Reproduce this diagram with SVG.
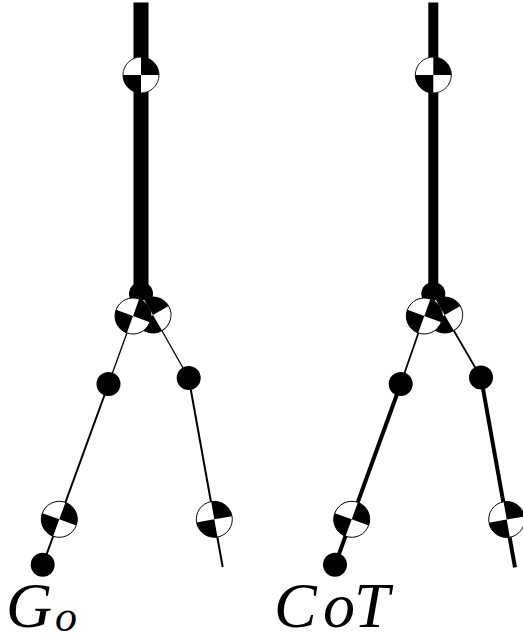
<svg xmlns="http://www.w3.org/2000/svg" width="523" height="641" viewBox="0 0 523 641">
<style>
.l{stroke:#000;fill:none}
.dot{fill:#000}
.t{font-family:"Liberation Serif","Times New Roman",serif;font-style:italic;fill:#000}
</style>
<defs>
<g id="cog">
<circle r="18" fill="#fff" stroke="#000" stroke-width="0.9"/>
<path d="M0 0V-18A18 18 0 0 1 18 0ZM0 0V18A18 18 0 0 1 -18 0Z" fill="#000"/>
</g>
</defs>
<rect width="523" height="641" fill="#fff"/>
<g id="connectors">
<path class="l" stroke-width="15" d="M141 2.500V294"/>
<path class="l" stroke-width="1.300" d="M133 316L108.500 384"/>
<path class="l" stroke-width="1.300" d="M153 315L188.700 378"/>
<path class="l" stroke-width="2" d="M108.500 384L42.700 565"/>
<path class="l" stroke-width="2" d="M188.700 378L222.700 567"/>
<path class="l" stroke-width="10" d="M433.300 2.500V294"/>
<path class="l" stroke-width="1.800" d="M424.300 316L400.700 384"/>
<path class="l" stroke-width="1.800" d="M444.700 315L481 377.500"/>
<path class="l" stroke-width="4" d="M400.700 384L335 565"/>
<path class="l" stroke-width="4" d="M481 377.500L515 567.300"/>
</g>
<g id="left-figure">
<g id="l-head"><use href="#cog" transform="translate(141 75)"/></g>
<g id="l-pelvis"><circle class="dot" cx="141" cy="294" r="12"/></g>
<g id="l-hip-r"><use href="#cog" transform="translate(153 315) rotate(-30)"/></g>
<g id="l-hip-l"><use href="#cog" transform="translate(133 316) rotate(20)"/></g>
<g id="l-knee-l"><circle class="dot" cx="108.500" cy="384" r="12"/></g>
<g id="l-knee-r"><circle class="dot" cx="188.700" cy="378" r="12"/></g>
<g id="l-shin-l"><use href="#cog" transform="translate(59.300 519.300) rotate(20)"/></g>
<g id="l-shin-r"><use href="#cog" transform="translate(214.300 519.300) rotate(-10)"/></g>
<g id="l-foot"><circle class="dot" cx="42.700" cy="564.700" r="12"/></g>
</g>
<g id="right-figure">
<g id="r-head"><use href="#cog" transform="translate(433.300 75)"/></g>
<g id="r-pelvis"><circle class="dot" cx="433.300" cy="294" r="12"/></g>
<g id="r-hip-r"><use href="#cog" transform="translate(444.700 315) rotate(-30)"/></g>
<g id="r-hip-l"><use href="#cog" transform="translate(424.300 316) rotate(20)"/></g>
<g id="r-knee-l"><circle class="dot" cx="400.700" cy="384" r="12"/></g>
<g id="r-knee-r"><circle class="dot" cx="481" cy="377.500" r="12"/></g>
<g id="r-shin-l"><use href="#cog" transform="translate(351.700 519.300) rotate(20)"/></g>
<g id="r-shin-r"><use href="#cog" transform="translate(506.700 519.500) rotate(-10)"/></g>
<g id="r-foot"><circle class="dot" cx="335" cy="564.700" r="12"/></g>
</g>
<g id="labels">
<text class="t" x="6" y="627" font-size="64">G<tspan x="55" y="631" font-size="44">o</tspan></text>
<text class="t" x="274 323 354" y="627" font-size="64">CoT</text>
</g>
</svg>
